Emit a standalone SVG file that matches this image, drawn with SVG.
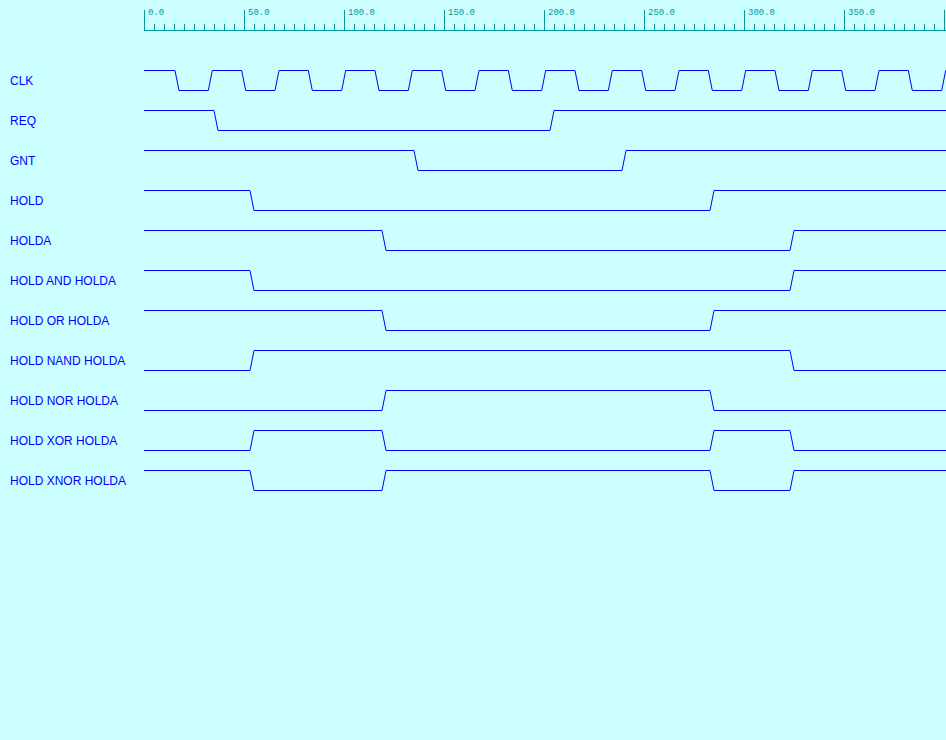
<svg xmlns="http://www.w3.org/2000/svg" width="946" height="740" viewBox="0 0 946 740">
<style>
.bg{fill:#ccffff}
.rul{stroke:#009999;stroke-width:1;fill:none}
.rt{font-family:"Liberation Mono","DejaVu Sans Mono",monospace;font-size:9px;fill:#009999}
.lbl{font-family:"Liberation Sans",Arial,sans-serif;font-size:12px;fill:#0000ff}
.w{stroke:#0000ff;stroke-width:1;fill:none}
</style>
<rect class="bg" x="0" y="0" width="946" height="740"/>
<g id="ruler">
<path class="rul" d="M144 30.5H946"/>
<path class="rul" d="M144.5 10V30M244.5 10V30M344.5 10V30M444.5 10V30M544.5 10V30M644.5 10V30M744.5 10V30M844.5 10V30M944.5 10V30"/>
<path class="rul" d="M154.5 24V30M164.5 24V30M174.5 24V30M184.5 24V30M194.5 24V30M204.5 24V30M214.5 24V30M224.5 24V30M234.5 24V30M254.5 24V30M264.5 24V30M274.5 24V30M284.5 24V30M294.5 24V30M304.5 24V30M314.5 24V30M324.5 24V30M334.5 24V30M354.5 24V30M364.5 24V30M374.5 24V30M384.5 24V30M394.5 24V30M404.5 24V30M414.5 24V30M424.5 24V30M434.5 24V30M454.5 24V30M464.5 24V30M474.5 24V30M484.5 24V30M494.5 24V30M504.5 24V30M514.5 24V30M524.5 24V30M534.5 24V30M554.5 24V30M564.5 24V30M574.5 24V30M584.5 24V30M594.5 24V30M604.5 24V30M614.5 24V30M624.5 24V30M634.5 24V30M654.5 24V30M664.5 24V30M674.5 24V30M684.5 24V30M694.5 24V30M704.5 24V30M714.5 24V30M724.5 24V30M734.5 24V30M754.5 24V30M764.5 24V30M774.5 24V30M784.5 24V30M794.5 24V30M804.5 24V30M814.5 24V30M824.5 24V30M834.5 24V30M854.5 24V30M864.5 24V30M874.5 24V30M884.5 24V30M894.5 24V30M904.5 24V30M914.5 24V30M924.5 24V30M934.5 24V30"/>
<text class="rt" x="148" y="15">0.0</text>
<text class="rt" x="248" y="15">50.0</text>
<text class="rt" x="348" y="15">100.0</text>
<text class="rt" x="448" y="15">150.0</text>
<text class="rt" x="548" y="15">200.0</text>
<text class="rt" x="648" y="15">250.0</text>
<text class="rt" x="748" y="15">300.0</text>
<text class="rt" x="848" y="15">350.0</text>
</g>
<g id="connectors"></g>
<g id="sig-clk">
<text class="lbl" x="10" y="85">CLK</text>
<path class="w" d="M144 70.5H175L179 90.5H208.3L212.3 70.5H241.7L245.7 90.5H275L279 70.5H308.3L312.3 90.5H341.7L345.7 70.5H375L379 90.5H408.3L412.3 70.5H441.7L445.7 90.5H475L479 70.5H508.3L512.3 90.5H541.7L545.7 70.5H575L579 90.5H608.3L612.3 70.5H641.7L645.7 90.5H675L679 70.5H708.3L712.3 90.5H741.7L745.7 70.5H775L779 90.5H808.3L812.3 70.5H841.7L845.7 90.5H875L879 70.5H908.3L912.3 90.5H941.7L945.7 70.5H946"/>
</g>
<g id="sig-req" transform="translate(0,40)">
<text class="lbl" x="10" y="85">REQ</text>
<path class="w" d="M144 70.5H214L218 90.5H550L554 70.5H946"/>
</g>
<g id="sig-gnt" transform="translate(0,80)">
<text class="lbl" x="10" y="85">GNT</text>
<path class="w" d="M144 70.5H414L418 90.5H622L626 70.5H946"/>
</g>
<g id="sig-hold" transform="translate(0,120)">
<text class="lbl" x="10" y="85">HOLD</text>
<path class="w" d="M144 70.5H250L254 90.5H710L714 70.5H946"/>
</g>
<g id="sig-holda" transform="translate(0,160)">
<text class="lbl" x="10" y="85">HOLDA</text>
<path class="w" d="M144 70.5H382L386 90.5H790L794 70.5H946"/>
</g>
<g id="sig-and" transform="translate(0,200)">
<text class="lbl" x="10" y="85">HOLD AND HOLDA</text>
<path class="w" d="M144 70.5H250L254 90.5H790L794 70.5H946"/>
</g>
<g id="sig-or" transform="translate(0,240)">
<text class="lbl" x="10" y="85">HOLD OR HOLDA</text>
<path class="w" d="M144 70.5H382L386 90.5H710L714 70.5H946"/>
</g>
<g id="sig-nand" transform="translate(0,280)">
<text class="lbl" x="10" y="85">HOLD NAND HOLDA</text>
<path class="w" d="M144 90.5H250L254 70.5H790L794 90.5H946"/>
</g>
<g id="sig-nor" transform="translate(0,320)">
<text class="lbl" x="10" y="85">HOLD NOR HOLDA</text>
<path class="w" d="M144 90.5H382L386 70.5H710L714 90.5H946"/>
</g>
<g id="sig-xor" transform="translate(0,360)">
<text class="lbl" x="10" y="85">HOLD XOR HOLDA</text>
<path class="w" d="M144 90.5H250L254 70.5H382L386 90.5H710L714 70.5H790L794 90.5H946"/>
</g>
<g id="sig-xnor" transform="translate(0,400)">
<text class="lbl" x="10" y="85">HOLD XNOR HOLDA</text>
<path class="w" d="M144 70.5H250L254 90.5H382L386 70.5H710L714 90.5H790L794 70.5H946"/>
</g>
</svg>
